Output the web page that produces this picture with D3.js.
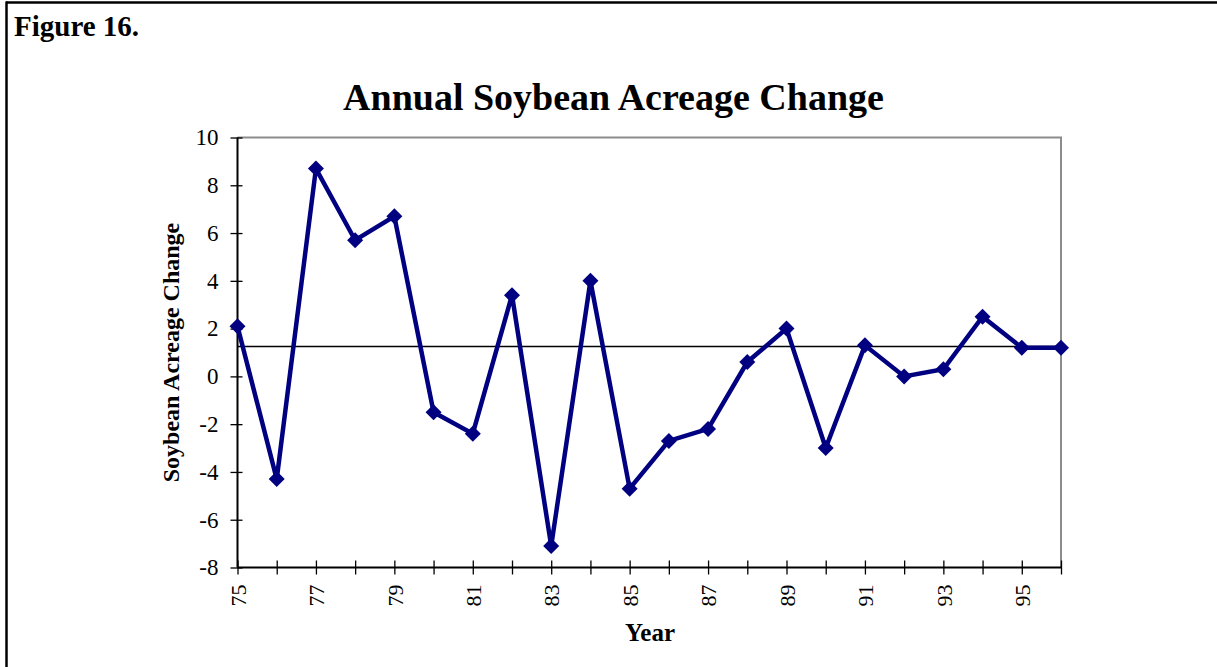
<!DOCTYPE html>
<html>
<head>
<meta charset="utf-8">
<script src="https://cdn.jsdelivr.net/npm/d3@7"></script>
<style>
  html, body { margin: 0; padding: 0; background: #fff; }
  svg { display: block; }
  text { font-family: "Liberation Serif", "Times New Roman", serif; }
</style>
</head>
<body>
<script>
const years = [75,76,77,78,79,80,81,82,83,84,85,86,87,88,89,90,91,92,93,94,95,96];
const acreageChange = [2.1,-4.3,8.7,5.7,6.7,-1.5,-2.4,3.4,-7.1,4.0,-4.7,-2.7,-2.2,0.6,2.0,-3.0,1.3,0.0,0.3,2.5,1.2,1.2];
const referenceLevel = [1.25];
const yTicks = [-8,-6,-4,-2,0,2,4,6,8,10];
const xLabelYears = [75,77,79,81,83,85,87,89,91,93,95];

(function () {
const W = 1217, H = 667;
const svg = d3.select("body").append("svg").attr("width", W).attr("height", H);

// outer frame
svg.append("line").attr("x1", 6).attr("x2", W).attr("y1", 2.5).attr("y2", 2.5).attr("stroke", "#000").attr("stroke-width", 2.5);
svg.append("line").attr("x1", 6.5).attr("x2", 6.5).attr("y1", 1.5).attr("y2", H).attr("stroke", "#000").attr("stroke-width", 2.5);

svg.append("text").attr("x", 14).attr("y", 36).attr("font-size", 29).attr("font-weight", "bold").text("Figure 16.");

const pl = 237.5, pr = 1061, pt = 137.5, pb = 567.5;
const x = d3.scaleLinear().domain([75, 96]).range([pl, pr]);
const y = d3.scaleLinear().domain([-8, 10]).range([pb, pt]);

svg.append("text").attr("x", 613.5).attr("y", 110).attr("text-anchor", "middle")
  .attr("font-size", 38).attr("font-weight", "bold").text("Annual Soybean Acreage Change");

// plot frame top/right in gray
svg.append("path").attr("d", `M${pl},${pt}H${pr}V${pb}`).attr("fill", "none").attr("stroke", "#8c8c8c").attr("stroke-width", 2);

// Y axis
const yAxis = svg.append("g").attr("transform", `translate(${pl},0)`)
  .call(d3.axisLeft(y).tickValues(yTicks).tickSize(7).tickPadding(12).tickFormat(d => String(d)));
yAxis.select(".domain").attr("d", `M0,${pt}V${pb}`).attr("stroke-width", 2);
yAxis.selectAll(".tick line").attr("x2", 5).attr("x1", -7).attr("stroke-width", 1.3);
yAxis.selectAll(".tick text").attr("font-size", 23).attr("fill", "#000").attr("font-family", "Liberation Serif");

// X axis
const xAxis = svg.append("g").attr("transform", `translate(0,${pb})`)
  .call(d3.axisBottom(x).tickValues(years).tickSize(7).tickFormat(""));
xAxis.select(".domain").attr("d", `M${pl},0H${pr}`).attr("stroke-width", 2);
xAxis.selectAll(".tick line").attr("y1", -7).attr("y2", 7).attr("stroke-width", 1.3);
xAxis.selectAll(".tick").filter(d => xLabelYears.includes(d)).append("text")
  .attr("transform", "translate(0,17) rotate(-90)")
  .attr("text-anchor", "end").attr("dy", "0.35em")
  .attr("font-size", 22).attr("fill", "#000").attr("font-family", "Liberation Serif")
  .text(d => d);

// axis titles
svg.append("text").attr("transform", `translate(179,${(pt + pb) / 2}) rotate(-90)`)
  .attr("text-anchor", "middle").attr("font-size", 24).attr("font-weight", "bold").text("Soybean Acreage Change");
svg.append("text").attr("x", 650).attr("y", 641).attr("text-anchor", "middle")
  .attr("font-size", 25).attr("font-weight", "bold").text("Year");

// reference line
svg.selectAll(".ref").data(referenceLevel).enter().append("line")
  .attr("x1", pl).attr("x2", pr).attr("y1", d => y(d)).attr("y2", d => y(d))
  .attr("stroke", "#000").attr("stroke-width", 1.5);

const data = years.map((yr, i) => ({ yr, v: acreageChange[i] }));
svg.append("path").datum(data)
  .attr("d", d3.line().x(d => x(d.yr)).y(d => y(d.v)))
  .attr("fill", "none").attr("stroke", "#000080").attr("stroke-width", 4.5).attr("stroke-linejoin", "miter");

svg.selectAll(".pt").data(data).enter().append("path")
  .attr("transform", d => `translate(${x(d.yr)},${y(d.v)})`)
  .attr("d", "M0,-8L8,0L0,8L-8,0Z").attr("fill", "#000080");
})();
</script>
</body>
</html>
